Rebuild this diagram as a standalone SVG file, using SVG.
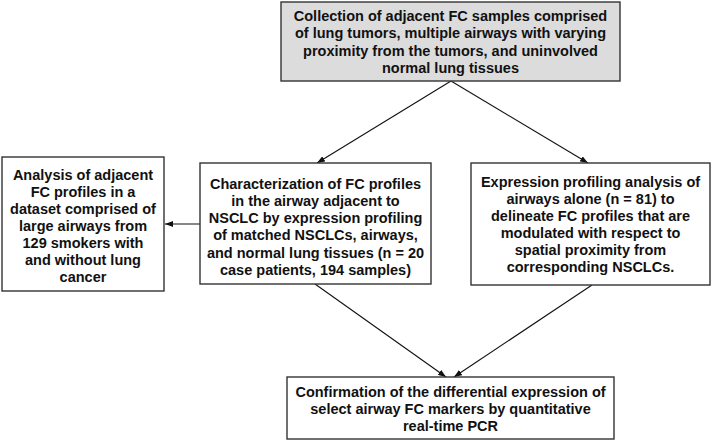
<svg xmlns="http://www.w3.org/2000/svg" width="711" height="441" viewBox="0 0 711 441">
<defs>
<marker id="ah" markerUnits="userSpaceOnUse" markerWidth="8" markerHeight="6" refX="8" refY="3" orient="auto">
<path d="M0,0 L8,3 L0,6 z" fill="#111"/>
</marker>
<style>
.box{fill:#fff;stroke:#333;stroke-width:1.4}
.gray{fill:#dcdcdd}
.t{font-family:"Liberation Sans",Arial,sans-serif;font-weight:bold;font-size:14.5px;fill:#111;text-anchor:middle}
.c{stroke:#111;stroke-width:1.1;fill:none;marker-end:url(#ah)}
</style>
</defs>
<rect width="711" height="441" fill="#fff"/>
<g id="connectors">
<line class="c" x1="451" y1="81" x2="317" y2="163"/>
<line class="c" x1="451" y1="81" x2="588" y2="163"/>
<line class="c" x1="200" y1="224" x2="165" y2="224"/>
<line class="c" x1="315" y1="284" x2="446" y2="377"/>
<line class="c" x1="592" y1="285" x2="454" y2="377"/>
</g>
<g id="top">
<rect class="box gray" x="281" y="2" width="339" height="79"/>
<text class="t"><tspan x="450.5" y="20.5">Collection of adjacent FC samples comprised</tspan><tspan x="450.5" y="38">of lung tumors, multiple airways with varying</tspan><tspan x="450.5" y="55.5">proximity from the tumors, and uninvolved</tspan><tspan x="450.5" y="73">normal lung tissues</tspan></text>
</g>
<g id="left">
<rect class="box" x="2" y="157" width="162" height="134"/>
<text class="t"><tspan x="83" y="180">Analysis of adjacent</tspan><tspan x="83" y="197">FC profiles in a</tspan><tspan x="83" y="214">dataset comprised of</tspan><tspan x="83" y="231">large airways from</tspan><tspan x="83" y="248">129 smokers with</tspan><tspan x="83" y="265">and without lung</tspan><tspan x="83" y="282">cancer</tspan></text>
</g>
<g id="center">
<rect class="box" x="200" y="163" width="231" height="121"/>
<text class="t"><tspan x="315.5" y="188.5">Characterization of FC profiles</tspan><tspan x="315.5" y="205.8">in the airway adjacent to</tspan><tspan x="315.5" y="223.1">NSCLC by expression profiling</tspan><tspan x="315.5" y="240.4">of matched NSCLCs, airways,</tspan><tspan x="315.5" y="257.7">and normal lung tissues (n = 20</tspan><tspan x="315.5" y="275">case patients, 194 samples)</tspan></text>
</g>
<g id="right">
<rect class="box" x="471" y="163" width="239" height="122"/>
<text class="t"><tspan x="590.5" y="187">Expression profiling analysis of</tspan><tspan x="590.5" y="204">airways alone (n = 81) to</tspan><tspan x="590.5" y="221">delineate FC profiles that are</tspan><tspan x="590.5" y="238">modulated with respect to</tspan><tspan x="590.5" y="255">spatial proximity from</tspan><tspan x="590.5" y="272">corresponding NSCLCs.</tspan></text>
</g>
<g id="bottom">
<rect class="box" x="287" y="377" width="327" height="62"/>
<text class="t"><tspan x="450.5" y="396.5">Confirmation of the differential expression of</tspan><tspan x="450.5" y="413.5">select airway FC markers by quantitative</tspan><tspan x="450.5" y="430.5">real-time PCR</tspan></text>
</g>
</svg>
